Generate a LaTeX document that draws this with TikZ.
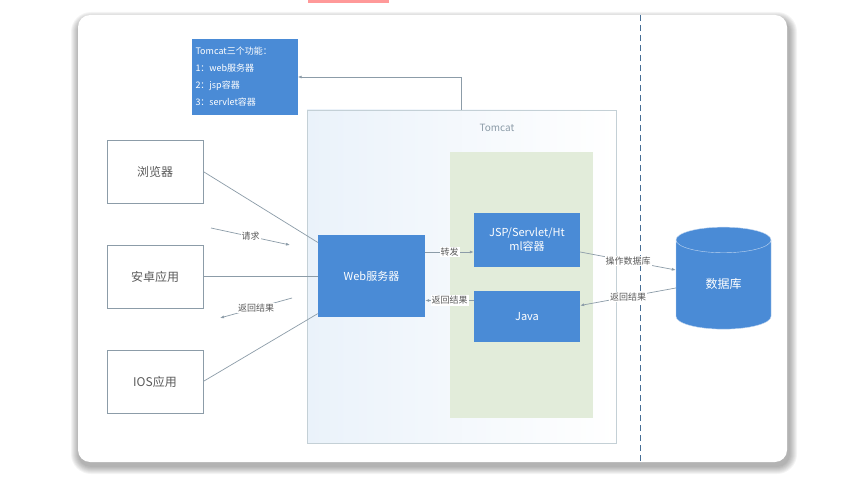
\documentclass[tikz,border=0pt]{standalone}
\usepackage{fontspec}
\setmainfont{Noto Sans CJK SC}
\usetikzlibrary{arrows.meta,shapes.geometric}
\definecolor{boxblue}{RGB}{74,139,214}
\definecolor{linegray}{RGB}{140,156,168}
\definecolor{textgray}{RGB}{90,90,90}
\definecolor{greenbg}{RGB}{226,236,218}
\definecolor{tomcatline}{RGB}{196,208,214}
\definecolor{tomcatfill}{RGB}{234,242,250}
\definecolor{dashblue}{RGB}{70,110,150}
\begin{document}
\begin{tikzpicture}[x=1pt,y=-1pt,
  bluebox/.style={fill=boxblue,text=white,inner sep=0pt,font=\fontsize{11}{14}\selectfont},
  clientbox/.style={draw=linegray,fill=white,minimum width=96pt,minimum height=63pt,
    text=textgray,font=\fontsize{12}{14}\selectfont},
  conn/.style={draw=linegray,line width=0.7pt},
  arr/.style={conn,-{Latex[length=4pt,width=3pt]}},
  lbl/.style={fill=white,inner sep=1pt,text=textgray,font=\fontsize{9}{10}\selectfont}]
  \useasboundingbox (0,0) rectangle (844,492);
  \fill[red!40] (308,0) rectangle (389,3);
  % card with soft shadow
  \foreach \s in {8,7,...,1}
    \fill[black,opacity=0.045,rounded corners=12pt+\s pt] (78-\s+1,15-\s+5) rectangle (787+\s+2,462+\s+4);
  \fill[white,rounded corners=12pt] (78,15) rectangle (787,462);
  \draw[dashblue,line width=1pt,dash pattern=on 6pt off 4pt] (640,15) -- (640,462);
  % tomcat
  \node[draw=tomcatline,left color=tomcatfill,right color=white,inner sep=0pt,
    minimum width=309pt,minimum height=333pt] (tomcat) at (461.5,276.5) {};
  \node[text=linegray,font=\fontsize{10}{12}\selectfont] (tomcatlbl) at (497,128) {Tomcat};
  \node[fill=greenbg,inner sep=0pt,minimum width=143pt,minimum height=266pt] (engine) at (521.5,285) {};
  \node[bluebox,minimum width=106pt,minimum height=76pt,text width=98pt,align=left,
    font=\fontsize{9}{17}\selectfont] (info) at (244.5,77) {Tomcat三个功能：\\1：web服务器\\2：jsp容器\\3：servlet容器};
  \node[bluebox,minimum width=107pt,minimum height=82pt] (web) at (371.5,276) {Web服务器};
  \node[bluebox,minimum width=106pt,minimum height=54pt,align=center] (jsp) at (527,240) {JSP/Servlet/Ht\\ml容器};
  \node[bluebox,minimum width=106pt,minimum height=51pt] (java) at (527,316.5) {Java};
  % clients
  \node[clientbox] (browser) at (155,171.5) {浏览器};
  \node[clientbox] (android) at (155,276.5) {安卓应用};
  \node[clientbox] (ios) at (155,381.5) {IOS应用};
  \node[cylinder,shape border rotate=90,aspect=0.6,minimum width=95pt,minimum height=102pt,
    fill=boxblue,draw=white!65!boxblue,thin,text=white,font=\fontsize{12}{14}\selectfont] (db) at (723.5,287) {\raisebox{7pt}{数据库}};
  % connectors
  \draw[arr] (tomcat.north) |- (info.east);
  \draw[conn] (browser.east) -- (web.148);
  \draw[conn] (android.east) -- (android.east -| web.west);
  \draw[conn] (ios.east) -- (web.215);
  \coordinate (reqa) at (211,228);
  \coordinate (reqb) at (290,245);
  \draw[arr] (reqa) -- node[lbl] {请求} (reqb);
  \coordinate (reta) at (292,298);
  \coordinate (retb) at (220,318);
  \draw[arr] (reta) -- node[lbl] {返回结果} (retb);
  \coordinate (fwd) at ([yshift=-12pt]jsp.west);
  \draw[arr] (web.east |- fwd) -- node[lbl] {转发} (fwd);
  \coordinate (back) at ([yshift=16pt]java.west);
  \draw[arr] (back) -- node[lbl] {返回结果} (back -| web.east);
  \draw[arr] ([yshift=-12pt]jsp.east) -- node[lbl] {操作数据库} ([yshift=17pt]db.west);
  \draw[arr] ([yshift=-1pt]db.west) -- node[lbl] {返回结果} ([yshift=11pt]java.east);
\end{tikzpicture}
\end{document}
